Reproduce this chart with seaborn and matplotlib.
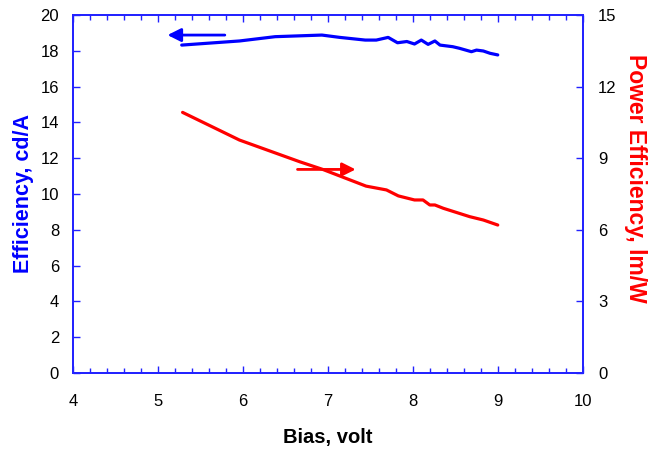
import pandas as pd
import matplotlib
matplotlib.use("Agg")
import matplotlib.pyplot as plt
import seaborn as sns
from matplotlib.ticker import MultipleLocator

# ---------- DATA ----------
bias_cd = [5.28, 5.96, 6.38, 6.93, 7.14, 7.44, 7.57, 7.71, 7.82, 7.93, 8.02,
           8.10, 8.18, 8.26, 8.32, 8.47, 8.55, 8.69, 8.75, 8.83, 8.91, 9.00]
eff_cd = [18.32, 18.55, 18.79, 18.88, 18.75, 18.60, 18.60, 18.75, 18.45, 18.52, 18.38,
          18.60, 18.36, 18.55, 18.32, 18.23, 18.14, 17.95, 18.04, 17.99, 17.86, 17.77]

bias_lm = [5.29, 5.96, 6.67, 6.94, 7.45, 7.69, 7.83, 8.02, 8.12, 8.20, 8.26,
           8.36, 8.67, 8.83, 9.00]
eff_lm = [10.92, 9.76, 8.85, 8.53, 7.83, 7.67, 7.42, 7.25, 7.25, 7.04, 7.04,
          6.90, 6.55, 6.41, 6.20]

# arrows telling which axis belongs to which curve
blue_arrow = {"start": (5.82, 18.88), "end": (5.08, 18.88)}
red_arrow = {"start": (6.61, 8.53), "end": (7.36, 8.53)}

df_cd = pd.DataFrame({"bias": bias_cd, "eff": eff_cd})
df_lm = pd.DataFrame({"bias": bias_lm, "eff": eff_lm})

# ---------- STYLE ----------
sns.set_style("ticks")
plt.rcParams["font.family"] = ["Liberation Sans", "DejaVu Sans"]

axis_blue = "#2222ff"

fig, ax = plt.subplots(figsize=(6.54, 4.51), dpi=100)
fig.subplots_adjust(left=0.1116, right=0.891, top=0.9667, bottom=0.173)
ax2 = ax.twinx()

# ---------- CURVES ----------
sns.lineplot(data=df_cd, x="bias", y="eff", ax=ax, color="#0000ff", linewidth=2.3)
sns.lineplot(data=df_lm, x="bias", y="eff", ax=ax2, color="#ff0000", linewidth=2.3)

ax.annotate("", xy=blue_arrow["end"], xytext=blue_arrow["start"],
            arrowprops=dict(arrowstyle="-|>", color="#0000ff", lw=2,
                            mutation_scale=20))
ax2.annotate("", xy=red_arrow["end"], xytext=red_arrow["start"],
             arrowprops=dict(arrowstyle="-|>", color="#ff0000", lw=2,
                             mutation_scale=20))

# ---------- AXES ----------
ax.set_xlim(4, 10)
ax.set_ylim(0, 20)
ax2.set_ylim(0, 15)
ax.xaxis.set_major_locator(MultipleLocator(1))
ax.xaxis.set_minor_locator(MultipleLocator(0.2))
ax.yaxis.set_major_locator(MultipleLocator(2))
ax2.yaxis.set_major_locator(MultipleLocator(3))

ax.tick_params(axis="x", which="both", direction="in", top=True, color=axis_blue,
               labelsize=12, labelcolor="black", pad=15)
ax.tick_params(axis="x", which="major", length=5, width=1)
ax.tick_params(axis="x", which="minor", length=3.5, width=1)
ax.tick_params(axis="y", direction="in", length=5, width=1, color=axis_blue,
               labelsize=12, labelcolor="black", pad=10)
ax2.tick_params(axis="y", direction="in", length=5, width=1, color=axis_blue,
                labelsize=12, labelcolor="black", pad=11)

for a in (ax, ax2):
    for sp in a.spines.values():
        sp.set_visible(True)
        sp.set_color(axis_blue)
        sp.set_linewidth(1.3)

ax.set_xlabel("Bias, volt", fontsize=14.5, fontweight="bold", color="black",
              labelpad=14)
ax.set_ylabel("Efficiency, cd/A", fontsize=15.5, fontweight="bold", color="#0000ff")
ax.yaxis.set_label_coords(-0.076, 0.5)
ax2.set_ylabel("Power Efficiency, lm/W", fontsize=16.5, fontweight="bold",
               color="#ff0000", rotation=270, va="center")
ax2.yaxis.set_label_coords(1.104, 0.545)

plt.savefig("out.png", dpi=100)
